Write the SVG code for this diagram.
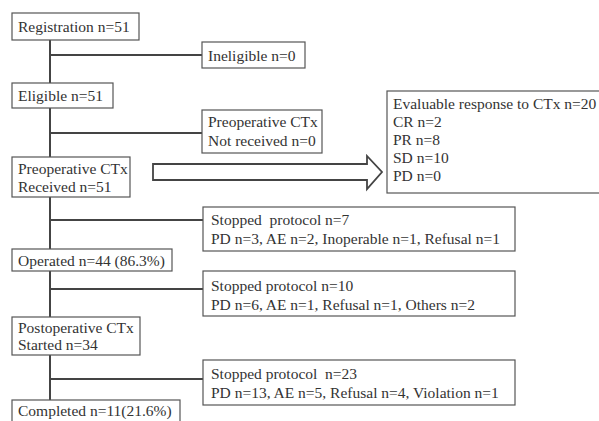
<svg xmlns="http://www.w3.org/2000/svg" width="599" height="421" viewBox="0 0 599 421">
<style>
.box{fill:#fff;stroke:#555;stroke-width:1.2}
.t{font-family:"Liberation Serif","Times New Roman",serif;font-size:15.5px;fill:#333}
.ln{stroke:#444;stroke-width:2;fill:none}
</style>
<rect width="599" height="421" fill="#fff"/>
<g id="connectors">
<line class="ln" x1="50" y1="40" x2="50" y2="83"/>
<line class="ln" x1="50" y1="55" x2="202" y2="55"/>
<line class="ln" x1="50" y1="108" x2="50" y2="157"/>
<line class="ln" x1="50" y1="133" x2="202" y2="133"/>
<line class="ln" x1="50" y1="197" x2="50" y2="249"/>
<line class="ln" x1="50" y1="220" x2="203" y2="220"/>
<line class="ln" x1="50" y1="271" x2="50" y2="317"/>
<line class="ln" x1="50" y1="289" x2="203" y2="289"/>
<line class="ln" x1="50" y1="355" x2="50" y2="400"/>
<line class="ln" x1="50" y1="379" x2="203" y2="379"/>
<path id="bigArrow" d="M153,164 H367 V156 L382,172 L367,189 V180 H153 Z" fill="#fff" stroke="#444" stroke-width="1.8"/>
</g>
<g id="registration"><rect class="box" x="12" y="13" width="127" height="27"/><text class="t" x="18" y="32">Registration n=51</text></g>
<g id="ineligible"><rect class="box" x="202" y="42" width="103" height="26"/><text class="t" x="208" y="61">Ineligible n=0</text></g>
<g id="eligible"><rect class="box" x="12" y="83" width="101" height="25"/><text class="t" x="18" y="101">Eligible n=51</text></g>
<g id="preop-not"><rect class="box" x="202" y="110" width="120" height="43"/><text class="t" x="208" y="127">Preoperative CTx</text><text class="t" x="208" y="146">Not received n=0</text></g>
<g id="preop-received"><rect class="box" x="12" y="157" width="118" height="40"/><text class="t" x="18" y="174">Preoperative CTx</text><text class="t" x="18" y="192">Received n=51</text></g>
<g id="evaluable"><rect class="box" x="387" y="91" width="220" height="102"/>
<text class="t" x="393" y="109">Evaluable response to CTx n=20</text>
<text class="t" x="393" y="127">CR n=2</text>
<text class="t" x="393" y="145">PR n=8</text>
<text class="t" x="393" y="163">SD n=10</text>
<text class="t" x="393" y="181">PD n=0</text></g>
<g id="stopped7"><rect class="box" x="203" y="207" width="312" height="44"/><text class="t" x="211" y="225" xml:space="preserve">Stopped  protocol n=7</text><text class="t" x="211" y="244">PD n=3, AE n=2, Inoperable n=1, Refusal n=1</text></g>
<g id="operated"><rect class="box" x="12" y="249" width="160" height="22"/><text class="t" x="18" y="266">Operated n=44 (86.3%)</text></g>
<g id="stopped10"><rect class="box" x="203" y="271" width="312" height="45"/><text class="t" x="211" y="291">Stopped protocol n=10</text><text class="t" x="211" y="310">PD n=6, AE n=1, Refusal n=1, Others n=2</text></g>
<g id="postop"><rect class="box" x="12" y="317" width="128" height="38"/><text class="t" x="18" y="333">Postoperative CTx</text><text class="t" x="18" y="350">Started n=34</text></g>
<g id="stopped23"><rect class="box" x="203" y="360" width="312" height="45"/><text class="t" x="211" y="379" xml:space="preserve">Stopped protocol  n=23</text><text class="t" x="211" y="398">PD n=13, AE n=5, Refusal n=4, Violation n=1</text></g>
<g id="completed"><rect class="box" x="12" y="400" width="168" height="30"/><text class="t" x="18" y="416">Completed n=11(21.6%)</text></g>
</svg>
